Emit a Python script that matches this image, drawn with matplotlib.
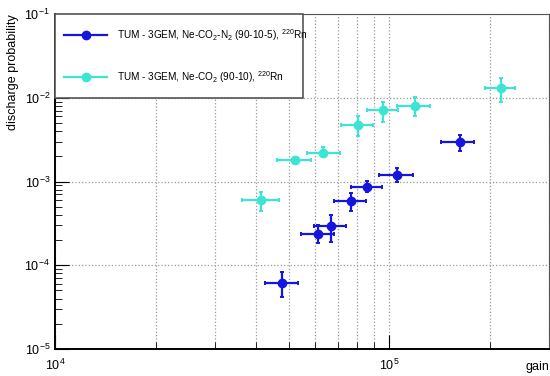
"""Discharge probability vs gain for two 3GEM gas mixtures (220Rn source)."""

import numpy as np
import matplotlib
matplotlib.use("Agg")
import matplotlib.pyplot as plt
from matplotlib.lines import Line2D
from matplotlib.patches import Rectangle
from matplotlib.ticker import LogLocator, NullFormatter

plt.rcParams["font.family"] = ["Liberation Sans", "DejaVu Sans"]
plt.rcParams["mathtext.fontset"] = "custom"
plt.rcParams["mathtext.rm"] = "Liberation Sans"

# Ne-CO2-N2 (90-10-5)
gain_n2 = [47.8e3, 61.2e3, 66.7e3, 76.9e3, 85.7e3, 105e3, 162e3]
gain_n2_lo = [42.6e3, 54.5e3, 59.4e3, 68.2e3, 76.6e3, 93.3e3, 143e3]
gain_n2_hi = [53.2e3, 68.2e3, 74.3e3, 85.1e3, 94.8e3, 118e3, 179e3]
prob_n2 = [6.1e-5, 2.34e-4, 2.94e-4, 5.83e-4, 8.55e-4, 1.21e-3, 2.94e-3]
prob_n2_lo = [4.2e-5, 1.83e-4, 1.91e-4, 4.5e-4, 7.5e-4, 9.9e-4, 2.34e-3]
prob_n2_hi = [8.3e-5, 3.0e-4, 3.97e-4, 7.3e-4, 1.02e-3, 1.43e-3, 3.57e-3]

# Ne-CO2 (90-10)
gain_co2 = [41.3e3, 52.3e3, 63.5e3, 80.5e3, 95.9e3, 119e3, 215e3]
gain_co2_lo = [36.3e3, 46.2e3, 56.6e3, 71.4e3, 85.5e3, 105e3, 193e3]
gain_co2_hi = [46.6e3, 58.3e3, 71.0e3, 89.5e3, 106e3, 132e3, 238e3]
prob_co2 = [5.94e-4, 1.81e-3, 2.21e-3, 4.73e-3, 7.07e-3, 8.03e-3, 1.30e-2]
prob_co2_lo = [4.4e-4, 1.66e-3, 1.95e-3, 3.53e-3, 5.2e-3, 6.0e-3, 9.0e-3]
prob_co2_hi = [7.5e-4, 1.96e-3, 2.56e-3, 6.0e-3, 8.8e-3, 1.01e-2, 1.70e-2]

labels = [r"TUM - 3GEM, Ne-CO$_2$-N$_2$ (90-10-5), $^{220}$Rn",
          r"TUM - 3GEM, Ne-CO$_2$ (90-10), $^{220}$Rn"]
colors = ["#1515dd", "#3ce4d4"]


def plot_series(ax, x, xlo, xhi, y, ylo, yhi, color):
    x, y = np.array(x), np.array(y)
    xerr = [x - np.array(xlo), np.array(xhi) - x]
    yerr = [y - np.array(ylo), np.array(yhi) - y]
    ax.errorbar(x, y, xerr=xerr, yerr=yerr, fmt="o", color=color,
                ms=6, elinewidth=1.6, capsize=1.5, capthick=1.4, zorder=3)


fig = plt.figure(figsize=(5.5, 3.76), dpi=100)
ax = fig.add_axes([55 / 550, 1 - 349 / 376, 494 / 550, 335 / 376])

plot_series(ax, gain_n2, gain_n2_lo, gain_n2_hi, prob_n2, prob_n2_lo,
            prob_n2_hi, colors[0])
plot_series(ax, gain_co2, gain_co2_lo, gain_co2_hi, prob_co2, prob_co2_lo,
            prob_co2_hi, colors[1])

ax.set_xscale("log")
ax.set_yscale("log")
ax.set_xlim(1e4, 3e5)
ax.set_ylim(1e-5, 1e-1)

ax.xaxis.set_minor_locator(LogLocator(base=10, subs=np.arange(2, 10)))
ax.xaxis.set_minor_formatter(NullFormatter())
ax.yaxis.set_minor_locator(LogLocator(base=10, subs=np.arange(2, 10)))
ax.yaxis.set_minor_formatter(NullFormatter())
ax.tick_params(which="major", direction="in", length=10, labelsize=9)
ax.tick_params(which="minor", direction="in", length=5)
ax.tick_params(axis="x", which="major", pad=6)

ax.grid(True, which="major", axis="both", color="#999999", ls=":", lw=0.9)
ax.grid(True, which="minor", axis="x", color="#999999", ls=":", lw=0.9)

for side in ["left", "bottom"]:
    ax.spines[side].set_linewidth(1.4)
for side in ["top", "right"]:
    ax.spines[side].set_color("#555555")

ax.set_ylabel("discharge probability", fontsize=9, loc="top")
ax.set_xlabel("gain", fontsize=9, loc="right")
ax.xaxis.set_label_coords(1.0, -0.035)

# legend: box drawn separately so its size matches the original
handles = [Line2D([], [], color=c, marker="o", ms=6, lw=1.6) for c in colors]
ax.add_patch(Rectangle((0, 1 - 84 / 335), 248 / 494, 84 / 335,
                       transform=ax.transAxes, facecolor="white",
                       edgecolor="#555555", lw=1.2, zorder=4, clip_on=False))
leg = ax.legend(handles, labels, loc="upper left",
                bbox_to_anchor=(0.0, 1 - 4 / 335), fontsize=7.2,
                frameon=False, borderaxespad=0, borderpad=0.9,
                labelspacing=2.6, handlelength=4.3, handletextpad=1.0)
leg.set_zorder(5)

fig.savefig("out.png", dpi=100)
